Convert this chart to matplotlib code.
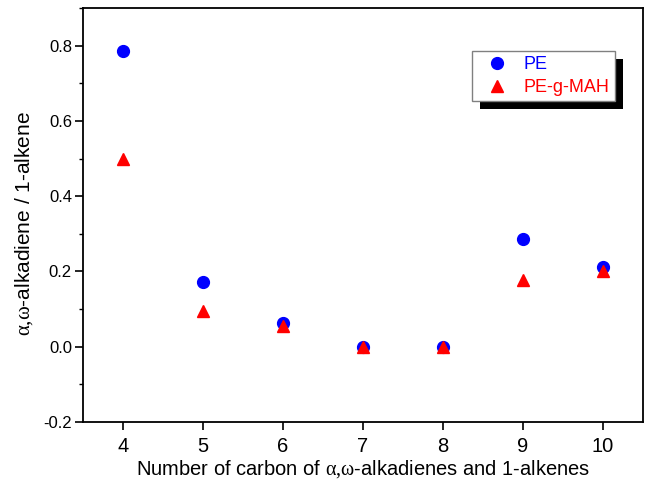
import matplotlib
matplotlib.use("Agg")
import matplotlib.pyplot as plt
from matplotlib.patches import Rectangle
from matplotlib.ticker import MultipleLocator

plt.rcParams['font.family'] = ['Liberation Sans', 'DejaVu Sans']
plt.rcParams['mathtext.fontset'] = 'custom'
plt.rcParams['mathtext.rm'] = 'Liberation Serif'
plt.rcParams['mathtext.it'] = 'Liberation Serif'
plt.rcParams['mathtext.bf'] = 'Liberation Serif:bold'

carbons = [4, 5, 6, 7, 8, 9, 10]
pe = [0.787, 0.172, 0.064, 0.0, 0.0, 0.285, 0.212]
pe_g_mah = [0.498, 0.096, 0.056, 0.0, 0.0, 0.176, 0.200]
series_names = ['PE', 'PE-g-MAH']
y_tick_values = [-0.2, 0.0, 0.2, 0.4, 0.6, 0.8]
y_tick_labels = ['-0.2', '0.0', '0.2', '0.4', '0.6', '0.8']
x_label = r'Number of carbon of $\mathrm{\alpha{,}\omega}$-alkadienes and 1-alkenes'
y_label = r'$\mathrm{\alpha{,}\omega}$-alkadiene / 1-alkene'

W, H = 648, 482
fig = plt.figure(figsize=(W / 100, H / 100), dpi=100)
ax = fig.add_axes([83 / W, 1 - 422 / H, 560 / W, 414 / H])

ax.plot(carbons, pe, 'o', color='#0000ff', markersize=8.5, linestyle='none', label=series_names[0])
ax.plot(carbons, pe_g_mah, '^', color='#ff0000', markersize=9, linestyle='none', label=series_names[1])

ax.set_xlim(3.5, 10.5)
ax.set_ylim(-0.2, 0.9)
ax.set_xticks(carbons)
ax.set_yticks(y_tick_values)
ax.set_yticklabels(y_tick_labels)
ax.yaxis.set_minor_locator(MultipleLocator(0.1))
ax.tick_params(axis='both', which='major', direction='out', length=5.5, width=1.2, pad=2.5)
ax.tick_params(axis='x', which='major', labelsize=14.5, pad=5)
ax.tick_params(axis='y', which='major', labelsize=12)
ax.tick_params(axis='y', which='minor', direction='out', length=3, width=1.0)
for s in ax.spines.values():
    s.set_linewidth(1.3)

ax.set_xlabel(x_label, fontsize=14.5, labelpad=2)
ax.set_ylabel(y_label, fontsize=15)
ax.yaxis.set_label_coords((35 - 83) / 560, (422 - 224) / 414)

leg = ax.legend(loc='upper left', bbox_to_anchor=(472 / W, 1 - 51 / H),
                bbox_transform=fig.transFigure, fontsize=13,
                frameon=True, fancybox=False, edgecolor='#808080', framealpha=1,
                handletextpad=0.35, borderpad=0.3, labelspacing=0.3, handlelength=2.2,
                borderaxespad=0)
leg.get_frame().set_linewidth(1.0)
for t, c in zip(leg.get_texts(), ['#0000ff', '#ff0000']):
    t.set_color(c)
leg.set_zorder(5)

fig.canvas.draw()
bb = leg.get_window_extent()
off = 8
shadow = Rectangle((bb.x0 + off, bb.y0 - off), bb.width, bb.height,
                   transform=None, facecolor='black', edgecolor='none', zorder=4)
shadow.set_clip_on(False)
ax.add_artist(shadow)

fig.savefig('out.png', dpi=100)
